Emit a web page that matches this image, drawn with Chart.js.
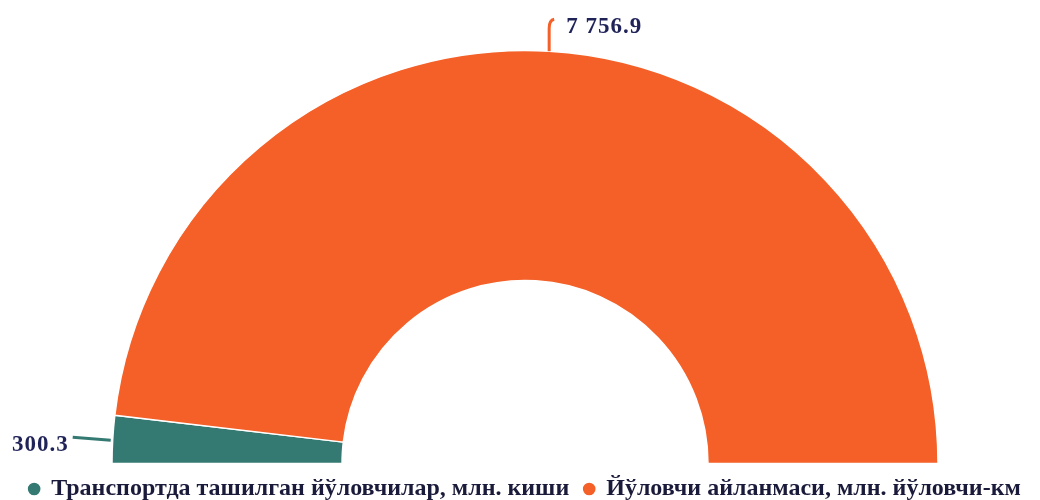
<!DOCTYPE html>
<html>
<head>
<meta charset="utf-8">
<script src="https://cdn.jsdelivr.net/npm/chart.js@4.4.0/dist/chart.umd.min.js"></script>
<style>
    html, body { margin: 0; padding: 0; background: #ffffff; }
    #wrap { width: 1040px; height: 500px; position: relative; }
</style>
</head>
<body>
<div id="wrap"><canvas id="halfChart"></canvas></div>
<script>
// Chart data
const categories = ['Транспортда ташилган йўловчилар, млн. киши', 'Йўловчи айланмаси, млн. йўловчи-км'];
const values = [300.3, 7756.9];
const valueLabels = ['300.3', '7 756.9'];
const colors = ['#347a73', '#f46027'];

const serif = '"Liberation Serif", "Times New Roman", serif';

// Draws the value labels with leader lines
const leaderLabels = {
    id: 'leaderLabels',
    afterDatasetsDraw(chart) {
        const ctx = chart.ctx;
        const arcs = chart.getDatasetMeta(0).data;
        ctx.save();
        ctx.font = 'bold 23px ' + serif;
        ctx.letterSpacing = '1px';
        ctx.fillStyle = '#1f2358';
        ctx.textBaseline = 'middle';
        ctx.lineWidth = 3;
        arcs.forEach((arc, i) => {
            const mid = (arc.startAngle + arc.endAngle) / 2;
            const x0 = arc.x + Math.cos(mid) * arc.outerRadius;
            const y0 = arc.y + Math.sin(mid) * arc.outerRadius;
            ctx.strokeStyle = colors[i];
            ctx.beginPath();
            if (i === 0) {
                ctx.moveTo(x0 - 2, y0 + 1);
                ctx.lineTo(x0 - 40, y0 - 2);
                ctx.stroke();
                ctx.textAlign = 'right';
                ctx.fillText(valueLabels[i], x0 - 44, y0 + 6);
            } else {
                ctx.moveTo(x0, y0);
                ctx.lineTo(x0, y0 - 23);
                ctx.quadraticCurveTo(x0, y0 - 31, x0 + 5, y0 - 32);
                ctx.stroke();
                ctx.textAlign = 'left';
                ctx.fillText(valueLabels[i], x0 + 17, y0 - 24);
            }
        });
        ctx.restore();
    }
};

new Chart(document.getElementById('halfChart'), {
    type: 'doughnut',
    data: {
        labels: categories,
        datasets: [{
            data: values,
            backgroundColor: colors,
            borderColor: '#ffffff',
            borderWidth: 1.5
        }]
    },
    options: {
        responsive: true,
        maintainAspectRatio: false,
        animation: false,
        rotation: -90,
        circumference: 180,
        radius: 413,
        cutout: '44.3%',
        layout: {
            padding: { top: 52, left: 10, right: 0, bottom: -11 }
        },
        plugins: {
            legend: {
                position: 'bottom',
                labels: {
                    usePointStyle: true,
                    pointStyle: 'circle',
                    boxWidth: 10,
                    boxHeight: 10,
                    padding: 15,
                    color: '#1a1a3a',
                    font: { family: serif, size: 24, weight: 'bold' }
                }
            },
            tooltip: { enabled: false }
        }
    },
    plugins: [leaderLabels]
});
</script>
</body>
</html>
